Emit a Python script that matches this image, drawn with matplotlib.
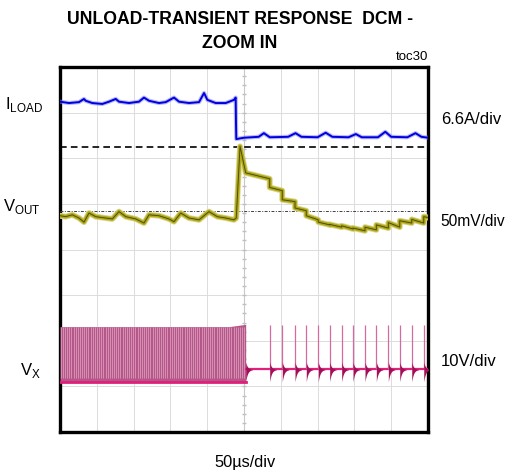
import numpy as np
import matplotlib.pyplot as plt

plt.rcParams['font.family'] = ['Liberation Sans', 'DejaVu Sans']

# time in us (50us/div, 10 div), vertical position in scope divisions (0..8)
iload_t = [0, 12.2, 25.8, 32.6, 34.9, 43.9, 57.5, 66.6, 75.7, 80.2, 93.8, 107.3,
           114.1, 120.9, 134.5, 143.6, 154.9, 161.7, 175.3, 188.9, 195.7, 200.2,
           211.5, 225.1, 236.4, 238.7, 239.1,
           239.5, 250, 270, 277, 285, 310, 320, 328, 350, 361, 370, 392, 402, 410,
           432, 442, 450, 472, 483, 491, 500]
iload_v = [7.24, 7.21, 7.23, 7.30, 7.26, 7.21, 7.19, 7.24, 7.30, 7.24, 7.21, 7.24,
           7.33, 7.26, 7.21, 7.23, 7.33, 7.24, 7.21, 7.23, 7.43, 7.28,
           7.21, 7.21, 7.28, 7.33, 6.80,
           6.42, 6.45, 6.47, 6.55, 6.46, 6.47, 6.55, 6.47, 6.46, 6.56, 6.47, 6.46, 6.53, 6.46,
           6.46, 6.58, 6.47, 6.46, 6.55, 6.47, 6.45]

vout_t = [0, 7.7, 16.7, 25.8, 32.6, 39.4, 48.5, 57.5, 71.1, 80.2, 89.3, 102.9,
          114.1, 120.9, 134.5, 148.1, 154.9, 164.0, 175.3, 188.9, 202.4, 213.7,
          225.1, 236.4, 239.5, 244.6, 252.3]
vout_v = [4.74, 4.72, 4.76, 4.69, 4.60, 4.80, 4.72, 4.70, 4.67, 4.83, 4.72, 4.67,
          4.58, 4.76, 4.74, 4.67, 4.61, 4.80, 4.69, 4.65, 4.83, 4.72,
          4.69, 4.65, 4.69, 6.26, 5.68]
vout_pre_pulse = 5.55  # level just before the first DCM pulse

# DCM switching pulses after the load step
dcm_pulse_t = [284.9, 302.0, 319.3, 334.6, 350.9, 366.4, 382.7, 398.1,
               414.4, 429.8, 446.1, 461.6, 477.9, 494.2]
# Vout level at start / end of each interval between pulses
vout_seg_start = [5.36, 5.09, 4.91, 4.74, 4.60, 4.55, 4.52, 4.47, 4.49, 4.54, 4.59, 4.63, 4.66, 4.72]
vout_seg_end = [5.29, 5.05, 4.85, 4.65, 4.54, 4.49, 4.45, 4.41, 4.43, 4.47, 4.49, 4.58, 4.58, 4.70]

dashed_level = 6.24
dashdot_level = 4.85

# switching node
ccm_end_t = 252.3
ccm_top = 2.31
ccm_low = 1.10
ccm_period_us = 2.9
dcm_base = 1.37
dcm_peak = 2.35
dcm_ring_low = 1.10


def build_vout():
    t = list(vout_t)
    v = list(vout_v)
    t.append(dcm_pulse_t[0])
    v.append(vout_pre_pulse)
    ends = dcm_pulse_t[1:] + [500]
    for p, e, a, b in zip(dcm_pulse_t, ends, vout_seg_start, vout_seg_end):
        t += [p, e]
        v += [a, b]
    return t, v


fig = plt.figure(figsize=(5.06, 4.71), dpi=100)
ax = fig.add_axes([60 / 506, 39 / 471, 368 / 506, 365 / 471])
ax.set_xlim(0, 500)
ax.set_ylim(0, 8)

# graticule
for x in range(50, 500, 50):
    ax.axvline(x, color='#dcdcdc', lw=0.7, zorder=0)
for y in range(1, 8):
    ax.axhline(y, color='#dcdcdc', lw=0.7, zorder=0)
ax.axvline(250, color='#c8c8c8', lw=0.8, zorder=0)
ax.plot([250] * 39, np.linspace(0.2, 7.8, 39), ls='none', marker='_',
        ms=3, color='#c0c0c0', zorder=0)

# reference levels
ax.axhline(dashed_level, color='black', lw=1.2, ls=(0, (4, 2.5)), zorder=3)
ax.axhline(dashdot_level, color='#404040', lw=0.7, ls=(0, (3, 1.5, 1, 1.5)), zorder=3)

# I_LOAD
ax.plot(iload_t, iload_v, color='#8080ff', lw=3.0, alpha=0.55, zorder=4)
ax.plot(iload_t, iload_v, color='#0000dd', lw=1.4, zorder=5)

# V_OUT
vt, vv = build_vout()
ax.plot(vt, vv, color='#d8d48a', lw=4.2, zorder=4)
ax.plot(vt, vv, color='#b0aa18', lw=2.8, zorder=5)
ax.plot(vt, vv, color='#4f4c08', lw=0.7, zorder=6)

# V_X: CCM block
ax.fill_between([0, 230, ccm_end_t], [ccm_low] * 3, [ccm_top, ccm_top, ccm_top + 0.05],
                color='#b6578a', lw=0, zorder=4)
stripes = np.arange(1.0, ccm_end_t - 1, ccm_period_us)
ax.vlines(stripes, ccm_low + 0.08, ccm_top, color='#e2a8c4', lw=0.5, zorder=5)
ax.plot([0, ccm_end_t], [ccm_low, ccm_low], color='#e0207a', lw=2, zorder=6)

# V_X: DCM part
ax.plot([ccm_end_t, 500], [dcm_base, dcm_base], color='#e0207a', lw=1.6, zorder=5)
ring = np.linspace(0, 9, 40)
env = (dcm_base - dcm_ring_low) * np.exp(-ring / 2.5)
ax.fill_between(ccm_end_t + ring, dcm_base - env, dcm_base + env * 0.6,
                color='#a3105a', lw=0, zorder=6)
for p in dcm_pulse_t:
    ax.vlines(p, dcm_base, dcm_peak, color='#d46aa0', lw=0.9, zorder=5)
    ax.fill_between(p + ring, dcm_base - env, dcm_base + env * 0.6,
                    color='#a3105a', lw=0, zorder=6)

ax.set_xticks([])
ax.set_yticks([])
for s in ax.spines.values():
    s.set_linewidth(2.4)
    s.set_color('black')

# text
fig.text(240 / 506, 1 - 20 / 471, 'UNLOAD-TRANSIENT RESPONSE  DCM -', ha='center', va='center',
         fontsize=12.7, fontweight='bold')
fig.text(240 / 506, 1 - 43 / 471, 'ZOOM IN', ha='center', va='center',
         fontsize=12.7, fontweight='bold')
fig.text(428 / 506, 1 - 57 / 471, 'toc30', ha='right', va='center', fontsize=9.5)
fig.text(245 / 506, 1 - 462 / 471, '50\u00b5s/div', ha='center', va='center', fontsize=11.8)

fig.text(5 / 506, 1 - 104 / 471, r'I$_{\mathregular{LOAD}}$', ha='left', va='center', fontsize=12)
fig.text(3 / 506, 1 - 207 / 471, r'V$_{\mathregular{OUT}}$', ha='left', va='center', fontsize=12)
fig.text(20 / 506, 1 - 370 / 471, r'V$_{\mathregular{X}}$', ha='left', va='center', fontsize=12)
fig.text(441 / 506, 1 - 120 / 471, '6.6A/div', ha='left', va='center', fontsize=12)
fig.text(440 / 506, 1 - 221 / 471, '50mV/div', ha='left', va='center', fontsize=11.2)
fig.text(441 / 506, 1 - 361 / 471, '10V/div', ha='left', va='center', fontsize=12)

fig.savefig('out.png', dpi=100)
